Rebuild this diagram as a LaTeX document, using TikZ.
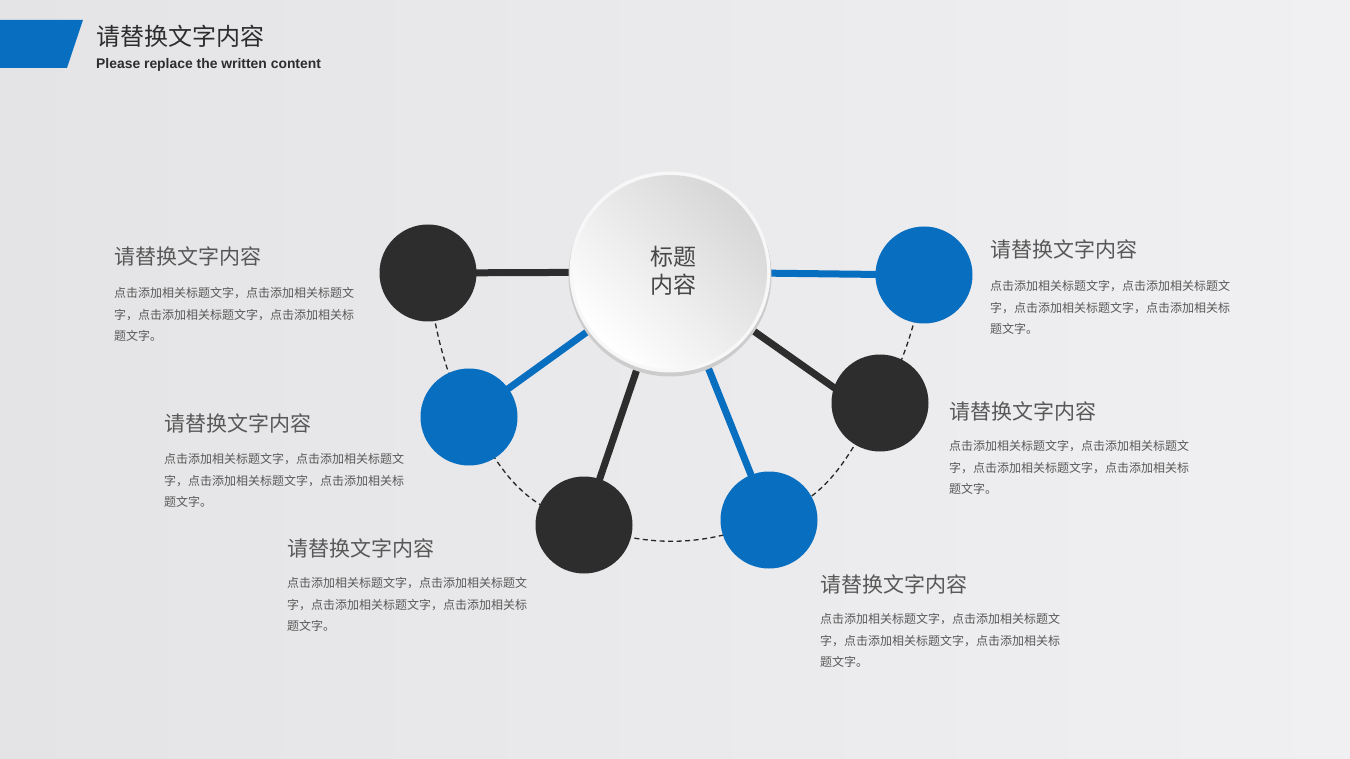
\documentclass[tikz,border=0pt]{standalone}
\usepackage{fontspec}
\setmainfont{Liberation Sans}
\newfontfamily\cjk{Noto Sans CJK SC}
\definecolor{myblue}{RGB}{8,110,192}
\definecolor{mydark}{RGB}{45,45,45}
\definecolor{txt}{RGB}{88,88,88}
\definecolor{bgA}{RGB}{228,228,230}
\definecolor{bgB}{RGB}{240,240,242}
\pgfdeclarelayer{bgl}
\pgfdeclarelayer{lnk}
\pgfsetlayers{bgl,lnk,main}
\begin{document}
\begin{tikzpicture}[x=1pt,y=-1pt,
  hd/.style={anchor=base west, inner sep=0, text=txt, font=\cjk\fontsize{21}{25}\selectfont},
  bd/.style={anchor=north west, inner sep=0, align=left, text=txt, font=\cjk\fontsize{12}{21.7}\selectfont},
  ball/.style={circle, minimum size=97pt, inner sep=0},
  link/.style={line width=7pt},
  dashlink/.style={line width=1.3pt, black!85, dash pattern=on 5pt off 3.5pt}]
\useasboundingbox (0,0) rectangle (1350,759);
\begin{pgfonlayer}{bgl}
\shade[left color=bgA, right color=bgB] (0,0) rectangle (1350,759);
\end{pgfonlayer}

% header
\fill[myblue] (0,20) -- (83,20) -- (67,68) -- (0,68) -- cycle;
\node[anchor=base west, inner sep=0, text=mydark, font=\cjk\fontsize{24}{28}\selectfont] (ttl) at (96,46) {请替换文字内容};
\node[anchor=base west, inner sep=0, text=mydark, font=\bfseries\fontsize{13.9}{15}\selectfont] (sub) at (96,69) {Please replace the written content};

% balls
\node[ball, fill=mydark] (d1) at (428,273) {};
\node[ball, fill=myblue] (b1) at (924,275) {};
\node[ball, fill=myblue] (b2) at (469,417) {};
\node[ball, fill=mydark] (d2) at (880,403) {};
\node[ball, fill=mydark] (d3) at (584,525) {};
\node[ball, fill=myblue] (b3) at (769,520) {};
\coordinate (d2a) at (860,406);

% center circle
\fill[black!20] (670,275) circle (101.5);
\fill[white!97!black] (670,272) circle (100.5);
\node[circle, minimum size=194pt, inner sep=0, top color=black!16, bottom color=white, shading angle=-45] (ctr) at (670,272) {};
\node[align=center, inner sep=0, text=black!72, font=\cjk\fontsize{23}{28.5}\selectfont] (ctxt) at (673,271) {标题\\内容};

% links and dashed curve underneath
\begin{pgfonlayer}{lnk}
\draw[dashlink] plot[smooth, tension=0.8] coordinates {(d1.center) (b2.center) (d3.center) (b3.center) (d2.center) (b1.center)};
\draw[link, mydark] (ctr.center) -- (d1.center);
\draw[link, myblue] (ctr.center) -- (b1.center);
\draw[link, myblue] (ctr.center) -- (b2.center);
\draw[link, mydark] (ctr.center) -- (d2a);
\draw[link, mydark] (ctr.center) -- (d3.center);
\draw[link, myblue] (ctr.center) -- (b3.center);
\end{pgfonlayer}

% text blocks
\node[hd] (h1) at (114,265) {请替换文字内容};
\node[bd] (p1) at (114,287) {点击添加相关标题文字，点击添加相关标题文\\字，点击添加相关标题文字，点击添加相关标\\题文字。};
\node[hd] (h2) at (164,431) {请替换文字内容};
\node[bd] (p2) at (164,453) {点击添加相关标题文字，点击添加相关标题文\\字，点击添加相关标题文字，点击添加相关标\\题文字。};
\node[hd] (h3) at (287,556) {请替换文字内容};
\node[bd] (p3) at (287,577) {点击添加相关标题文字，点击添加相关标题文\\字，点击添加相关标题文字，点击添加相关标\\题文字。};
\node[hd] (h4) at (990,258) {请替换文字内容};
\node[bd] (p4) at (990,280) {点击添加相关标题文字，点击添加相关标题文\\字，点击添加相关标题文字，点击添加相关标\\题文字。};
\node[hd] (h5) at (949,419) {请替换文字内容};
\node[bd] (p5) at (949,440) {点击添加相关标题文字，点击添加相关标题文\\字，点击添加相关标题文字，点击添加相关标\\题文字。};
\node[hd] (h6) at (820,592) {请替换文字内容};
\node[bd] (p6) at (820,613) {点击添加相关标题文字，点击添加相关标题文\\字，点击添加相关标题文字，点击添加相关标\\题文字。};
\end{tikzpicture}
\end{document}
